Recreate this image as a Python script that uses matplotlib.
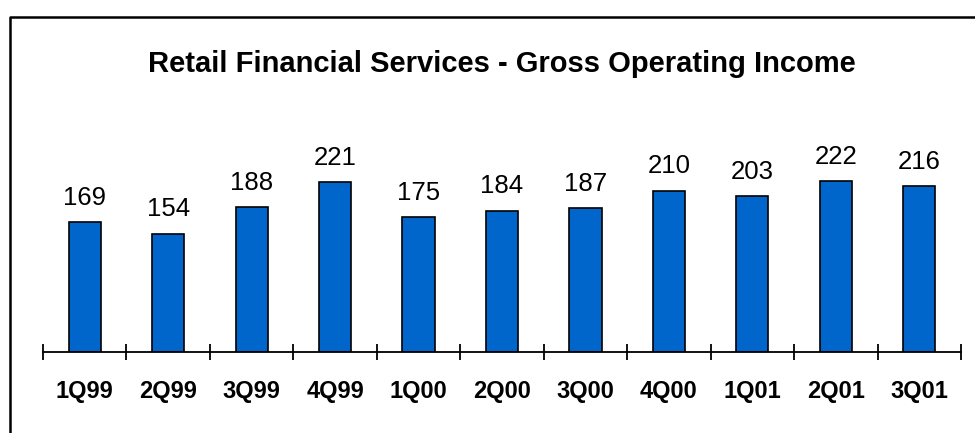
import matplotlib.pyplot as plt
from matplotlib.lines import Line2D
import numpy as np

plt.rcParams['font.family'] = ['Liberation Sans', 'DejaVu Sans']

# Quarterly gross operating income
quarters = ['1Q99', '2Q99', '3Q99', '4Q99', '1Q00', '2Q00', '3Q00', '4Q00', '1Q01', '2Q01', '3Q01']
income = [169, 154, 188, 221, 175, 184, 187, 210, 203, 222, 216]

fig = plt.figure(figsize=(9.75, 4.33), dpi=100)
W, H = 975, 433

# axes placed in pixel terms: x-axis line at y=352, plot spans 43..961
ax = fig.add_axes([43 / W, 81 / H, 918 / W, 230.7 / H])

x = np.arange(len(quarters))
ax.bar(x, income, width=0.385, color='#0066CC', edgecolor='black', linewidth=1.2, zorder=2)

for xi, v in zip(x, income):
    ax.annotate(str(v), (xi, v), xytext=(0, 12.5), textcoords='offset points',
                ha='center', va='baseline', fontsize=18.5)

ax.set_xlim(-0.5, len(quarters) - 0.5)
ax.set_ylim(0, 300)

# boundary ticks crossing the axis line, labels centred under the bars
ax.set_xticks(np.arange(-0.5, len(quarters), 1.0))
ax.set_xticklabels([])
ax.tick_params(axis='x', which='major', direction='inout', length=12, width=1.3, color='black')
ax.set_xticks(x, minor=True)
ax.set_xticklabels(quarters, minor=True, fontsize=17, fontweight='bold')
ax.tick_params(axis='x', which='minor', length=0, pad=20)
ax.set_yticks([])

for side in ['top', 'right', 'left']:
    ax.spines[side].set_visible(False)
ax.spines['bottom'].set_linewidth(1.3)

fig.text(502 / W, 1 - 64 / H, 'Retail Financial Services - Gross Operating Income',
         ha='center', va='center', fontsize=21, fontweight='bold')

# open frame: left and top edges
fig.add_artist(Line2D([10 / W, 10 / W, 1.01], [-0.01, 1 - 17 / H, 1 - 17 / H],
                      transform=fig.transFigure, color='black', linewidth=1.8))

fig.savefig('out.png', dpi=100)
